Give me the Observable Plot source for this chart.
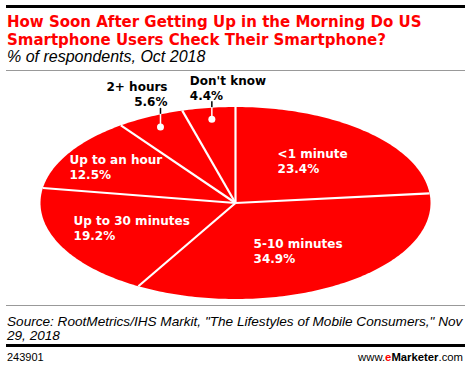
<!DOCTYPE html>
<html>
<head>
<meta charset="utf-8">
<script src="https://cdn.jsdelivr.net/npm/d3@7"></script>
<script src="https://cdn.jsdelivr.net/npm/@observablehq/plot@0.6"></script>
<style>
  body { margin: 0; background: #fff; }
  #c { position: relative; width: 470px; height: 368px; overflow: hidden; font-family: "Liberation Sans", Arial, sans-serif; }
  .abs { position: absolute; }
  #topbar { left: 6px; top: 5px; width: 459px; height: 3px; background: #000; }
  #title { left: 7px; top: 12.5px; width: 462px; font: bold 15px/18.3px "DejaVu Sans", Verdana, sans-serif; color: #f00; white-space: nowrap; }
  #subtitle { left: 7px; top: 48.3px; font: italic 16px/18px "Liberation Sans", Arial, sans-serif; color: #000; white-space: nowrap; }
  #rule1 { left: 6px; top: 70px; width: 459px; height: 1px; background: #999; }
  #plot { left: 0; top: 72px; }
  #rule2 { left: 6px; top: 305px; width: 459px; height: 1px; background: #999; }
  #source { left: 7px; top: 315.2px; font: italic 13.6px/14px "Liberation Sans", Arial, sans-serif; color: #000; white-space: nowrap; }
  #botbar { left: 6px; top: 344px; width: 459px; height: 3px; background: #000; }
  #id { left: 7px; top: 351.4px; font: 11px/13px "Liberation Sans", Arial, sans-serif; color: #000; }
  #brand { right: 7px; top: 351.2px; font: 11.3px/13px "Liberation Sans", Arial, sans-serif; color: #000; white-space: nowrap; }
  #brand b { font-weight: bold; }
  #brand .e { color: #f00; }
</style>
</head>
<body>
<div id="c">
  <div id="topbar" class="abs"></div>
  <div id="title" class="abs">How Soon After Getting Up in the Morning Do US<br>Smartphone Users Check Their Smartphone?</div>
  <div id="subtitle" class="abs">% of respondents, Oct 2018</div>
  <div id="rule1" class="abs"></div>
  <div id="plot" class="abs"></div>
  <div id="rule2" class="abs"></div>
  <div id="source" class="abs">Source: RootMetrics/IHS Markit, "The Lifestyles of Mobile Consumers," Nov<br>29, 2018</div>
  <div id="botbar" class="abs"></div>
  <div id="id" class="abs">243901</div>
  <div id="brand" class="abs">www.<b class="e">e</b><b>Marketer</b>.com</div>
</div>
<script>
// ---- data ----
const categories = ["<1 minute", "5-10 minutes", "Up to 30 minutes", "Up to an hour", "2+ hours", "Don't know"];
const values = [23.4, 34.9, 19.2, 12.5, 5.6, 4.4];
const pctLabels = values.map(v => v.toFixed(1) + "%");

// ---- layout ----
const W = 470, H = 231, mL = 40, mR = 40, mT = 34.5, mB = 4.5;
const pxPerX = (W - mL - mR) / 2;
const pxPerY = (H - mT - mB) / 2;
const RED = "#f00";
const FONT = "DejaVu Sans";

const pie = d3.pie().sort(null).value(d => d)(values);
const slices = pie.map((p, i) => ({
  cat: categories[i], value: values[i], pct: pctLabels[i],
  a0: p.startAngle, a1: p.endAngle, mid: (p.startAngle + p.endAngle) / 2
}));

// slice outlines in unit-circle space (the x/y scales stretch it into the ellipse)
const polyPts = [];
for (const s of slices) {
  polyPts.push({cat: s.cat, x: 0, y: 0});
  const n = Math.max(2, Math.ceil((s.a1 - s.a0) / (Math.PI / 180)));
  for (let k = 0; k <= n; k++) {
    const a = s.a0 + (s.a1 - s.a0) * k / n;
    polyPts.push({cat: s.cat, x: Math.sin(a), y: Math.cos(a)});
  }
}

// text measurement for left-aligned label blocks
const ctx = document.createElement("canvas").getContext("2d");
ctx.font = `bold 12px "${FONT}"`;
const blockW = d => Math.max(ctx.measureText(d.cat).width, ctx.measureText(d.pct).width);

const inside = slices.filter(s => s.value >= 10);
const outside = slices.filter(s => s.value < 10);
const labR = d => d.value < 15 ? 0.72 : 0.59;

const dotR = 0.88;
const lx = d => dotR * Math.sin(d.mid);
const dotY = d => dotR * Math.cos(d.mid);
const edgeY = d => Math.sqrt(1 - lx(d) ** 2);
const topY = d => edgeY(d) + 6 / pxPerY;

const textStyle = {fontFamily: FONT, fontWeight: "bold", fontSize: 12, lineHeight: 1.25};

const chart = Plot.plot({
  width: W, height: H,
  marginLeft: mL, marginRight: mR, marginTop: mT, marginBottom: mB,
  style: {background: "transparent", overflow: "visible"},
  x: {domain: [-1, 1], axis: null},
  y: {domain: [-1, 1], axis: null},
  marks: [
    Plot.line(polyPts, {x: "x", y: "y", z: "cat", fill: RED, stroke: "none", curve: "linear-closed"}),
    Plot.link(slices, {x1: d => 0, y1: d => 0, x2: d => Math.sin(d.a0), y2: d => Math.cos(d.a0), stroke: "white", strokeWidth: 2.2}),
    Plot.text(inside, {
      x: d => labR(d) * Math.sin(d.mid) - blockW(d) / 2 / pxPerX,
      y: d => labR(d) * Math.cos(d.mid),
      text: d => d.cat + "\n" + d.pct,
      textAnchor: "start", lineAnchor: "middle", fill: "white", ...textStyle
    }),
    Plot.ruleX(outside, {x: lx, y1: edgeY, y2: topY, stroke: "#000", strokeWidth: 1.5}),
    Plot.ruleX(outside, {x: lx, y1: dotY, y2: edgeY, stroke: "white", strokeWidth: 1.5}),
    Plot.dot(outside, {x: lx, y: dotY, r: 3.5, fill: "white", stroke: "none"}),
    Plot.text(outside.slice(0, 1), {
      x: lx, y: topY, text: d => d.cat + "\n" + d.pct,
      textAnchor: "end", lineAnchor: "bottom", dx: 7, dy: -2, fill: "#000", ...textStyle
    }),
    Plot.text(outside.slice(1), {
      x: lx, y: topY, text: d => d.cat + "\n" + d.pct,
      textAnchor: "start", lineAnchor: "bottom", dx: -22, dy: -2, fill: "#000", ...textStyle
    })
  ]
});
document.getElementById("plot").appendChild(chart);
</script>
</body>
</html>
